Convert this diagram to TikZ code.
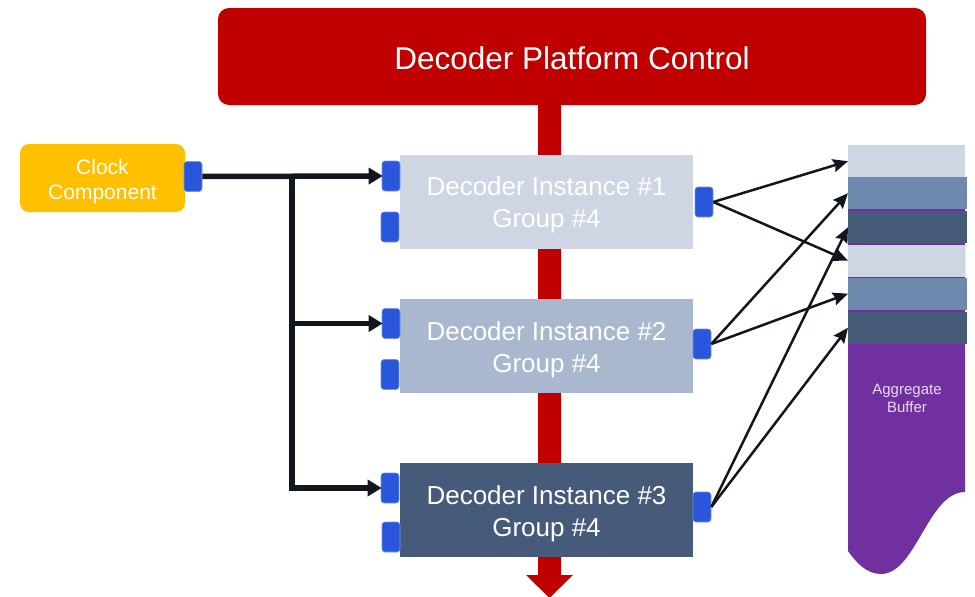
\documentclass[tikz,border=0pt]{standalone}
\usepackage{fontspec}
\setmainfont{Liberation Sans}
\usetikzlibrary{arrows.meta}
\definecolor{ctrlred}{HTML}{C00000}
\definecolor{clockyellow}{HTML}{FFC000}
\definecolor{portblue}{HTML}{2A56DC}
\definecolor{wire}{HTML}{12161F}
\definecolor{decA}{HTML}{CED6E3}
\definecolor{decB}{HTML}{A9B8CF}
\definecolor{decC}{HTML}{465A79}
\definecolor{slotmid}{HTML}{6F88AD}
\definecolor{bufpurple}{HTML}{7030A0}
\definecolor{buftext}{HTML}{E6DCF0}
% text drawn a little lower while keeping its box size for centring
\newcommand{\lowered}[2]{\raisebox{-#1}[\height][\depth]{#2}}
\newcommand{\lowpair}[3]{\lowered{#3}{\begin{tabular}{@{}c@{}}#1\\#2\end{tabular}}}
\begin{document}
\begin{tikzpicture}[x=1pt,y=-1pt,
  decoder/.style={minimum width=293pt, minimum height=94pt, inner sep=0pt,
    text=white, font=\fontsize{26}{32}\selectfont},
  port/.style={fill=portblue, draw=portblue!65!white, line width=0.6pt,
    rounded corners=3pt, minimum width=18pt, minimum height=30pt, inner sep=0pt},
  slot/.style={minimum width=117pt, minimum height=32pt, inner sep=0pt, anchor=north west},
  clockwire/.style={draw=wire, line width=5.5pt},
  clockarrow/.style={clockwire, -{Triangle[length=14pt,width=16pt]}, shorten >=-1pt},
  feed/.style={draw=wire, line width=2.5pt, -{Stealth[length=15pt,width=13pt,inset=2pt]}}
]
\useasboundingbox (0,0) rectangle (975,597);

% control bus arrow running down behind the decoders
\fill[ctrlred] (538,100) -- (561,100) -- (561,575) -- (573,575) -- (549.5,598)
  -- (526,575) -- (538,575) -- cycle;

% platform control header
\node[fill=ctrlred, rounded corners=11pt, minimum width=708pt, minimum height=97pt,
  inner sep=0pt, text=white, font=\fontsize{31.5}{36}\selectfont] (ctrl) at (572,56.5)
  {\lowered{2pt}{Decoder Platform Control}};

% clock source
\node[fill=clockyellow, rounded corners=9pt, minimum width=165pt, minimum height=68pt,
  inner sep=0pt, text=white, font=\fontsize{21}{25}\selectfont]
  (clock) at (102.5,178) {\lowpair{Clock}{Component}{3.5pt}};
\node[port] (cp) at (193,176.5) {};

% decoder instances
\node[decoder, fill=decA] (d1) at (546.5,201.5) {\lowpair{Decoder Instance \#1}{Group \#4}{4pt}};
\node[decoder, fill=decB] (d2) at (546.5,346) {\lowpair{Decoder Instance \#2}{Group \#4}{4pt}};
\node[decoder, fill=decC] (d3) at (546.5,510) {\lowpair{Decoder Instance \#3}{Group \#4}{4pt}};

% decoder ports
\node[port] (d1a) at (391,176) {};
\node[port] (d1b) at (390,227) {};
\node[port] (d1o) at (704,202) {};
\node[port] (d2a) at (391,323.5) {};
\node[port] (d2b) at (390,374.5) {};
\node[port] (d2o) at (702,344) {};
\node[port] (d3a) at (390,488) {};
\node[port] (d3b) at (391,537) {};
\node[port] (d3o) at (702,507) {};

% aggregate buffer body
\fill[bufpurple] (848,177) -- (965,177) -- (965,492)
  .. controls (928,492) and (916,574) .. (881,574)
  .. controls (866,574) and (856,562) .. (848,551) -- cycle;
\node[text=buftext, align=center, font=\fontsize{15}{18}\selectfont] (buflabel)
  at (907,398) {Aggregate\\Buffer};

% buffer slots
\node[slot, fill=decA] (s1) at (848,145) {};
\node[slot, fill=slotmid, minimum width=119pt] (s2) at (848,177) {};
\node[slot, fill=decC, minimum width=119pt] (s3) at (848,211) {};
\node[slot, fill=decA] (s4) at (848,244.5) {};
\node[slot, fill=slotmid, minimum width=119pt] (s5) at (848,277.5) {};
\node[slot, fill=decC, minimum width=119pt] (s6) at (848,311.5) {};

% clock distribution
\coordinate (j) at (292,176.5);
\draw[clockwire] (j) -- (292,488);
\draw[clockarrow] (cp.east) -- (d1a.west);
\draw[clockarrow] (j) |- (d2a.west);
\draw[clockarrow] (j) |- (d3a.west);

% decoder outputs into buffer slots
\draw[feed] (d1o.east) -- (s1.west);
\draw[feed] (d1o.east) -- (s4.west);
\draw[feed] (d2o.east) -- (s2.west);
\draw[feed] (d2o.east) -- (s5.west);
\draw[feed] (d3o.east) -- (s3.west);
\draw[feed] (d3o.east) -- (s6.west);
\end{tikzpicture}
\end{document}
